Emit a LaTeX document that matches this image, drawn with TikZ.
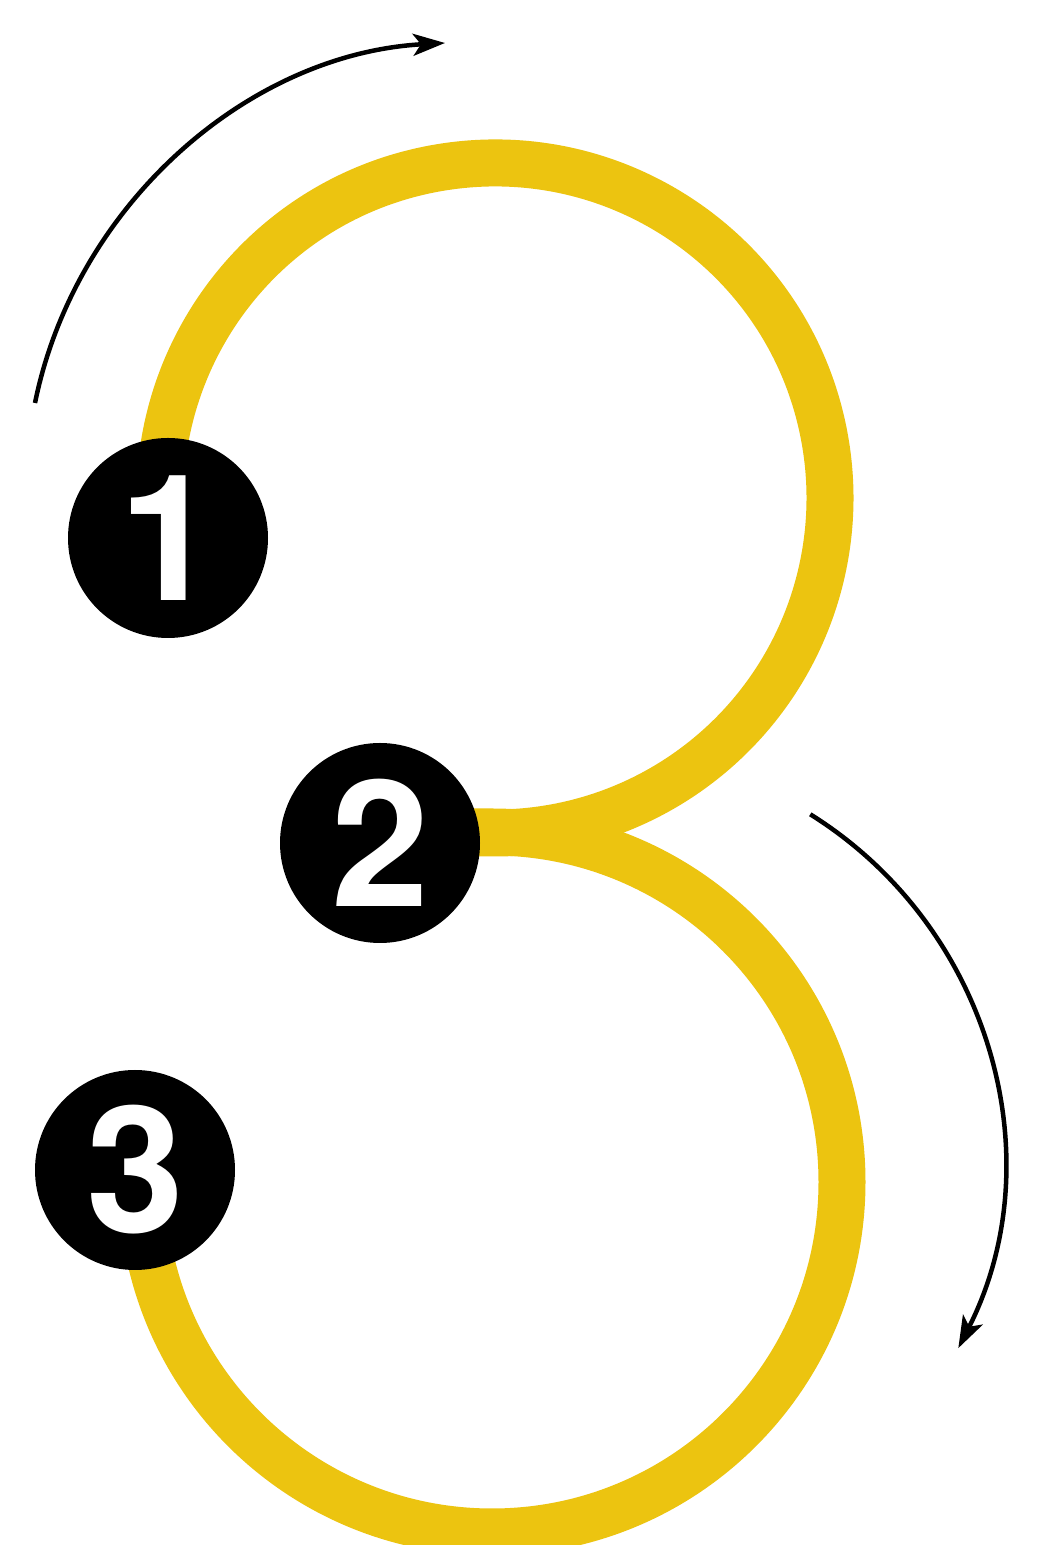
\documentclass[tikz,border=0pt]{standalone}
\usepackage{fontspec}
\setmainfont{TeX Gyre Heros}
\usetikzlibrary{arrows.meta}
\definecolor{stroke3}{RGB}{236,196,16}
\tikzset{
  numcircle/.style={circle, fill=black, minimum size=200pt, inner sep=0pt,
    text=white, font=\fontsize{176pt}{176pt}\selectfont\bfseries},
  yellowline/.style={draw=stroke3, line width=47pt},
  dirarrow/.style={draw=black, line width=4.5pt, -{Stealth[length=32pt,width=22pt,inset=8pt]}}
}
\begin{document}
\begin{tikzpicture}[x=1pt,y=1pt]
\useasboundingbox (0,0) rectangle (1059,1545);
\fill[white] (0,0) rectangle (1059,1545);
% centres of the two bowls
\coordinate (cu) at (495,1047);
\coordinate (cl) at (492,363);
% upper bowl: from point 1 clockwise to the junction, then stem to point 2
\draw[yellowline] ([shift={(190:335pt)}]cu) arc[start angle=190, end angle=-90, radius=335pt] -- (400,712);
% lower bowl: from point 2 clockwise round to point 3
\draw[yellowline] (420,713) -- ([shift={(90:350pt)}]cl) arc[start angle=90, end angle=-175, radius=350pt];
% numbered markers
\node[numcircle] (n1) at (168,1007) {1};
\node[numcircle] (n2) at (380,702) {2};
\node[numcircle] (n3) at (135,375) {3};
% direction arrows
\coordinate (a1s) at (35,1142);
\coordinate (a1e) at (445,1502);
\coordinate (a2c) at (593,383);
\coordinate (a2s) at ([shift={(58:410pt)}]a2c);
\draw[dirarrow] (a1s) .. controls (75,1339) and (247,1491) .. (a1e);
\draw[dirarrow] (a2s) arc[start angle=58, end angle=-27, radius=410pt];
\end{tikzpicture}
\end{document}
